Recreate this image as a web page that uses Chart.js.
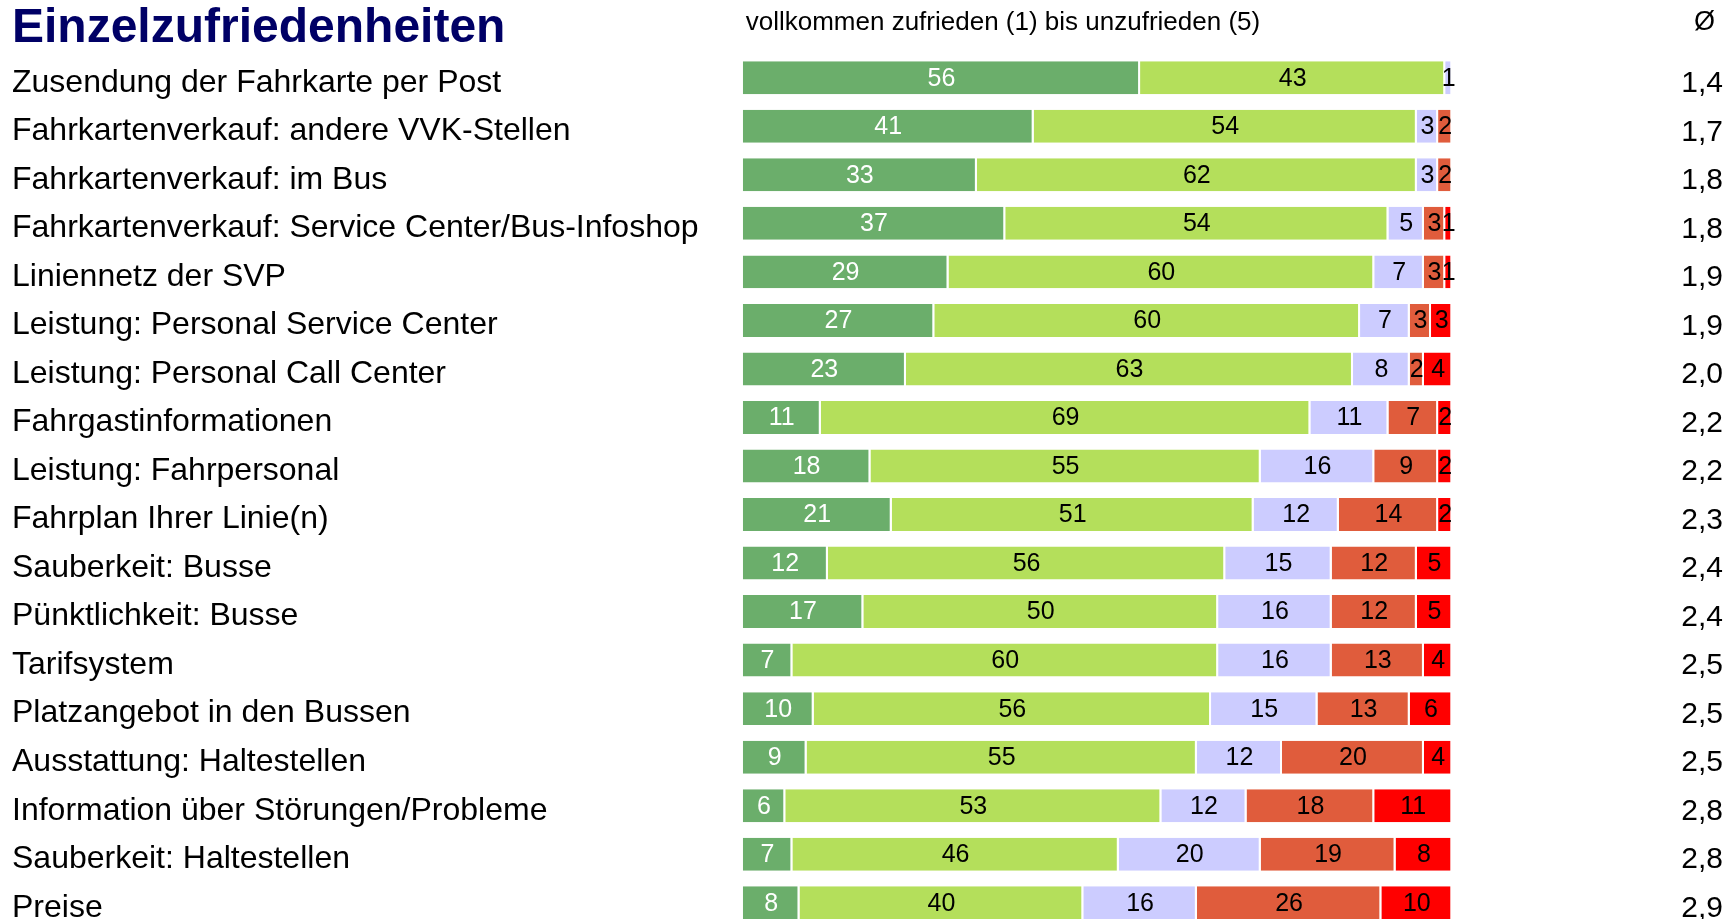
<!DOCTYPE html>
<html lang="de">
<head>
<meta charset="utf-8">
<title>Einzelzufriedenheiten</title>
<script src="https://cdn.jsdelivr.net/npm/chart.js@4/dist/chart.umd.min.js"></script>
<style>
  html, body { margin: 0; padding: 0; background: #ffffff; overflow: hidden; }
  canvas { display: block; }
</style>
</head>
<body>
<canvas id="satisfactionChart" width="1735" height="927"></canvas>
<script>
const categories = [
  "Zusendung der Fahrkarte per Post",
  "Fahrkartenverkauf: andere VVK-Stellen",
  "Fahrkartenverkauf: im Bus",
  "Fahrkartenverkauf: Service Center/Bus-Infoshop",
  "Liniennetz der SVP",
  "Leistung: Personal Service Center",
  "Leistung: Personal Call Center",
  "Fahrgastinformationen",
  "Leistung: Fahrpersonal",
  "Fahrplan Ihrer Linie(n)",
  "Sauberkeit: Busse",
  "Pünktlichkeit: Busse",
  "Tarifsystem",
  "Platzangebot in den Bussen",
  "Ausstattung: Haltestellen",
  "Information über Störungen/Probleme",
  "Sauberkeit: Haltestellen",
  "Preise"
];

// share of answers per grade, 1 = vollkommen zufrieden ... 5 = unzufrieden
const grade1 = [56, 41, 33, 37, 29, 27, 23, 11, 18, 21, 12, 17, 7, 10, 9, 6, 7, 8];
const grade2 = [43, 54, 62, 54, 60, 60, 63, 69, 55, 51, 56, 50, 60, 56, 55, 53, 46, 40];
const grade3 = [1, 3, 3, 5, 7, 7, 8, 11, 16, 12, 15, 16, 16, 15, 12, 12, 20, 16];
const grade4 = [0, 2, 2, 3, 3, 3, 2, 7, 9, 14, 12, 12, 13, 13, 20, 18, 19, 26];
const grade5 = [0, 0, 0, 1, 1, 3, 4, 2, 2, 2, 5, 5, 4, 6, 4, 11, 8, 10];

const averages = ["1,4", "1,7", "1,8", "1,8", "1,9", "1,9", "2,0", "2,2", "2,2", "2,3", "2,4", "2,4", "2,5", "2,5", "2,5", "2,8", "2,8", "2,9"];

const gradeColors = ["#6bae6b", "#b4df5b", "#ccccff", "#e05c3c", "#ff0000"];
const labelColors = ["#ffffff", "#000000", "#000000", "#000000", "#000000"];
const fontFamily = "'Liberation Sans', Arial, sans-serif";

const segmentLabels = {
  id: "segmentLabels",
  afterDatasetsDraw(chart) {
    const ctx = chart.ctx;
    ctx.save();
    ctx.font = `25px ${fontFamily}`;
    ctx.textAlign = "center";
    ctx.textBaseline = "middle";
    chart.data.datasets.forEach((dataset, di) => {
      const meta = chart.getDatasetMeta(di);
      meta.data.forEach((bar, i) => {
        const value = dataset.data[i];
        if (!value) return;
        ctx.fillStyle = labelColors[di];
        ctx.fillText(String(value), (bar.x + bar.base) / 2, bar.y + 1);
      });
    });
    ctx.restore();
  }
};

const header = {
  id: "header",
  afterDraw(chart) {
    const ctx = chart.ctx;
    const area = chart.chartArea;
    ctx.save();
    ctx.textBaseline = "alphabetic";
    ctx.fillStyle = "#000066";
    ctx.font = `bold 48px ${fontFamily}`;
    ctx.textAlign = "left";
    ctx.fillText("Einzelzufriedenheiten", 12, 42);

    ctx.fillStyle = "#000000";
    ctx.font = `26px ${fontFamily}`;
    ctx.fillText("vollkommen zufrieden (1) bis unzufrieden (5)", area.left + 3, 30);
    ctx.font = `27px ${fontFamily}`;
    ctx.textAlign = "right";
    ctx.fillText("Ø", 1715, 30);
    ctx.restore();
  }
};

// keep the axes from reserving extra room for half a label at top and bottom
const fitWidth = width => scale => {
  scale.width = width;
  scale.paddingTop = 0;
  scale.paddingBottom = 0;
};

new Chart(document.getElementById("satisfactionChart"), {
  type: "bar",
  data: {
    labels: categories,
    datasets: [grade1, grade2, grade3, grade4, grade5].map((values, i) => ({
      label: `Note ${i + 1}`,
      data: values,
      backgroundColor: gradeColors[i],
      borderColor: "#ffffff",
      borderWidth: { top: 0, right: 2, bottom: 0, left: 0 },
      borderSkipped: false,
      barPercentage: 0.68,
      categoryPercentage: 1
    }))
  },
  options: {
    indexAxis: "y",
    responsive: false,
    animation: false,
    layout: { padding: { top: 53.5, left: 12, right: 12, bottom: 0 } },
    plugins: {
      legend: { display: false },
      title: { display: false },
      tooltip: { enabled: true }
    },
    scales: {
      x: {
        stacked: true,
        min: 0,
        max: 100,
        display: false
      },
      y: {
        stacked: true,
        position: "left",
        grid: { display: false },
        border: { display: false },
        ticks: {
          autoSkip: false,
          crossAlign: "far",
          labelOffset: 5,
          color: "#000000",
          font: { family: fontFamily, size: 32 }
        },
        afterFit: fitWidth(730.7)
      },
      avg: {
        type: "category",
        labels: averages,
        position: "right",
        offset: true,
        grid: { display: false },
        border: { display: false },
        ticks: {
          autoSkip: false,
          crossAlign: "far",
          labelOffset: 6,
          color: "#000000",
          font: { family: fontFamily, size: 30 }
        },
        afterFit: fitWidth(270.7)
      }
    }
  },
  plugins: [segmentLabels, header]
});
</script>
</body>
</html>
